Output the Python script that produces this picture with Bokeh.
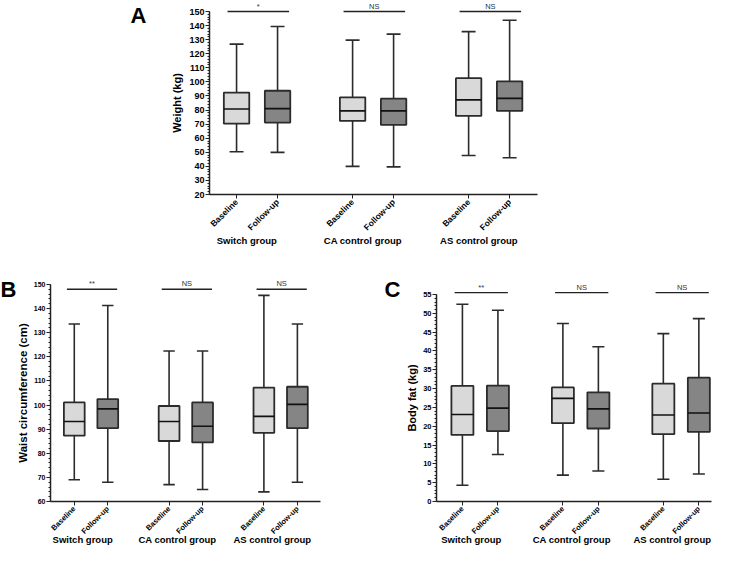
from math import pi
from bokeh.plotting import figure
from bokeh.models import FixedTicker, Range1d, Spacer
from bokeh.core.properties import value
from bokeh.layouts import column, row
from bokeh.embed import file_html
from bokeh.resources import INLINE

# ---------------- data ----------------
groups = ["Switch group", "CA control group", "AS control group"]
timepoints = ["Baseline", "Follow-up"]

# order: Switch baseline, Switch follow-up, CA baseline, CA follow-up, AS baseline, AS follow-up
weight_min = [50.4, 49.9, 40.0, 39.6, 47.7, 46.1]
weight_q1 = [70.3, 71.1, 72.3, 69.4, 75.8, 79.4]
weight_med = [80.7, 81.0, 79.4, 79.4, 87.2, 88.3]
weight_q3 = [92.4, 93.7, 89.0, 88.1, 102.6, 100.4]
weight_max = [126.8, 139.3, 129.7, 133.9, 135.7, 143.8]
weight_sig = ["*", "NS", "NS"]
weight_sig_level = 150

waist_min = [69.0, 68.0, 67.0, 65.0, 64.0, 68.0]
waist_q1 = [87.3, 90.4, 85.1, 84.5, 88.5, 90.4]
waist_med = [93.2, 98.4, 93.2, 91.2, 95.3, 100.3]
waist_q3 = [101.1, 102.5, 99.6, 101.1, 107.2, 107.6]
waist_max = [133.6, 141.3, 122.4, 122.4, 145.5, 133.6]
waist_sig = ["**", "NS", "NS"]
waist_sig_level = 148

fat_min = [4.3, 12.5, 7.0, 8.1, 5.9, 7.3]
fat_q1 = [17.7, 18.7, 20.8, 19.4, 17.9, 18.5]
fat_med = [23.1, 24.8, 27.4, 24.6, 23.0, 23.5]
fat_q3 = [30.7, 30.8, 30.3, 29.0, 31.3, 32.9]
fat_max = [52.4, 50.8, 47.3, 41.1, 44.6, 48.6]
fat_sig = ["**", "NS", "NS"]
fat_sig_level = 55.5

# ---------------- styling ----------------
FONT = "Liberation Sans"
LIGHT = "#d9d9d9"
DARK = "#858585"
EDGE = "#2b2b2b"

GROUP_STEP = 2.83
BOX_W = 0.62
CAP_W = 0.34

xpos = []
xlab = []
for g in range(len(groups)):
    for k in range(len(timepoints)):
        xpos.append(round(1 + g * GROUP_STEP + k, 2))
        xlab.append(timepoints[k])
fills = [LIGHT if k == 0 else DARK for g in range(len(groups)) for k in range(len(timepoints))]


def panel(letter, ylabel, mins, q1, med, q3, maxs, sig, sig_level, yticks, yminor,
          geom, fonts, letter_px, group_py, ylabel_standoff):
    # geom: figure box on page + pixel anchors of the two axes
    (fl, ft, w, h, yax_px, x0, ppx, xax_py, y0, ppy, xlen_px) = geom
    xs = x0 - (yax_px - fl) / ppx
    xe = xs + w / ppx
    ys = y0 - (ft + h - xax_py) / ppy
    ye = ys + h / ppy

    def px2x(px):
        return xs + (px - fl) / ppx

    def py2y(py):
        return ye - (py - ft) / ppy

    p = figure(width=w, height=h, x_range=Range1d(xs, xe), y_range=Range1d(ys, ye),
               output_backend="svg", toolbar_location=None,
               min_border_left=0, min_border_right=0, min_border_top=0, min_border_bottom=0)
    p.outline_line_color = None
    p.grid.visible = False
    p.background_fill_color = "white"
    p.border_fill_color = "white"

    ytick_fs, ylabel_fs, xtick_fs, group_fs = fonts

    # y axis (drawn inside the frame at x = x0)
    ya = p.yaxis[0]
    ya.fixed_location = x0
    ya.ticker = FixedTicker(ticks=yticks, minor_ticks=yminor)
    ya.bounds = (yticks[0], yticks[-1])
    ya.axis_line_width = 1.5
    ya.axis_line_color = "#222222"
    ya.major_tick_line_color = "#222222"
    ya.major_tick_line_width = 1.2
    ya.major_tick_out = 4
    ya.major_tick_in = 0
    ya.minor_tick_line_color = "#222222"
    ya.minor_tick_out = 2
    ya.minor_tick_in = 0
    ya.major_label_text_font = FONT
    ya.major_label_text_font_style = "bold"
    ya.major_label_text_font_size = ytick_fs
    ya.major_label_text_color = "black"
    ya.major_label_standoff = 1
    ya.axis_label = ylabel
    ya.axis_label_text_font = FONT
    ya.axis_label_text_font_style = "bold"
    ya.axis_label_text_font_size = ylabel_fs
    ya.axis_label_text_color = "black"
    ya.axis_label_standoff = ylabel_standoff

    # x axis (drawn inside the frame at y = y0)
    xa = p.xaxis[0]
    xa.fixed_location = y0
    xa.ticker = FixedTicker(ticks=xpos)
    xa.bounds = (x0, x0 + xlen_px / ppx)
    xa.major_label_overrides = {x: t for x, t in zip(xpos, xlab)}
    xa.major_label_orientation = pi / 4
    xa.axis_line_width = 1.5
    xa.axis_line_color = "#222222"
    xa.major_tick_line_color = "#222222"
    xa.major_tick_out = 4
    xa.major_tick_in = 0
    xa.minor_tick_line_color = None
    xa.major_label_text_font = FONT
    xa.major_label_text_font_style = "bold"
    xa.major_label_text_font_size = xtick_fs
    xa.major_label_text_color = "black"
    xa.major_label_standoff = 2

    # whiskers
    p.segment(x0=xpos, y0=q3, x1=xpos, y1=maxs, line_color=EDGE, line_width=1.6)
    p.segment(x0=xpos, y0=mins, x1=xpos, y1=q1, line_color=EDGE, line_width=1.6)
    p.segment(x0=[x - CAP_W / 2 for x in xpos], y0=maxs,
              x1=[x + CAP_W / 2 for x in xpos], y1=maxs, line_color=EDGE, line_width=1.6)
    p.segment(x0=[x - CAP_W / 2 for x in xpos], y0=mins,
              x1=[x + CAP_W / 2 for x in xpos], y1=mins, line_color=EDGE, line_width=1.6)
    # boxes
    p.vbar(x=xpos, width=BOX_W, bottom=q1, top=q3, fill_color=fills,
           line_color=EDGE, line_width=1.8)
    p.segment(x0=[x - BOX_W / 2 for x in xpos], y0=med,
              x1=[x + BOX_W / 2 for x in xpos], y1=med, line_color="#111111", line_width=1.6)

    # significance bars
    sx0 = [xpos[2 * g] - 0.22 for g in range(len(groups))]
    sx1 = [xpos[2 * g + 1] + 0.28 for g in range(len(groups))]
    lv = [sig_level] * len(groups)
    p.segment(x0=sx0, y0=lv, x1=sx1, y1=lv, line_color="#222222", line_width=1.4)
    p.text(x=[(a + b) / 2 for a, b in zip(sx0, sx1)], y=lv, text=sig,
           text_align="center", text_baseline="bottom", y_offset=-1,
           text_font=value(FONT), text_font_size="7.5px", text_color="#333333")

    # group names
    gx = [(xpos[2 * g] + xpos[2 * g + 1]) / 2 - 0.25 for g in range(len(groups))]
    p.text(x=gx, y=[py2y(group_py)] * len(groups), text=groups,
           text_align="center", text_baseline="middle",
           text_font=value(FONT), text_font_style="bold",
           text_font_size=group_fs, text_color="black")

    # panel letter
    p.text(x=[px2x(letter_px[0])], y=[py2y(letter_px[1])], text=[letter],
           text_align="left", text_baseline="middle",
           text_font=value(FONT), text_font_style="bold",
           text_font_size="22px", text_color="black")
    return p


# geometry: fig_left, fig_top, width, height, y-axis px, its x value, px per x unit,
#           x-axis py, its y value, px per y unit, x-axis length px
pA = panel("A", "Weight (kg)", weight_min, weight_q1, weight_med, weight_q3, weight_max,
           weight_sig, weight_sig_level,
           list(range(20, 151, 10)), list(range(20, 151, 2)),
           (128, 8, 432, 256, 217, 0.34, 41.0, 202, 20, 183 / 130, 328),
           ("9px", "11px", "8.5px", "9.5px"), (138, 23), 248, 3)

pB = panel("B", "Waist circumference (cm)", waist_min, waist_q1, waist_med, waist_q3, waist_max,
           waist_sig, waist_sig_level,
           list(range(60, 151, 10)), list(range(60, 151, 2)),
           (8, 264, 372, 290, 58, 0.29, 33.5, 509, 60, 217 / 90, 270),
           ("7px", "11.5px", "7.5px", "9.5px"), (8, 297), 547, 2)

pC = panel("C", "Body fat (kg)", fat_min, fat_q1, fat_med, fat_q3, fat_max,
           fat_sig, fat_sig_level,
           list(range(0, 56, 5)), list(range(0, 56, 1)),
           (380, 264, 341, 290, 444, 0.27, 35.5, 509, 0, 207 / 55, 275),
           ("7.5px", "11px", "7.5px", "9.5px"), (392, 297), 547, 2)

layout = column(row(Spacer(width=120, height=256), pA), row(pB, pC), spacing=0)

open("out.html", "w").write(file_html(layout, INLINE))
